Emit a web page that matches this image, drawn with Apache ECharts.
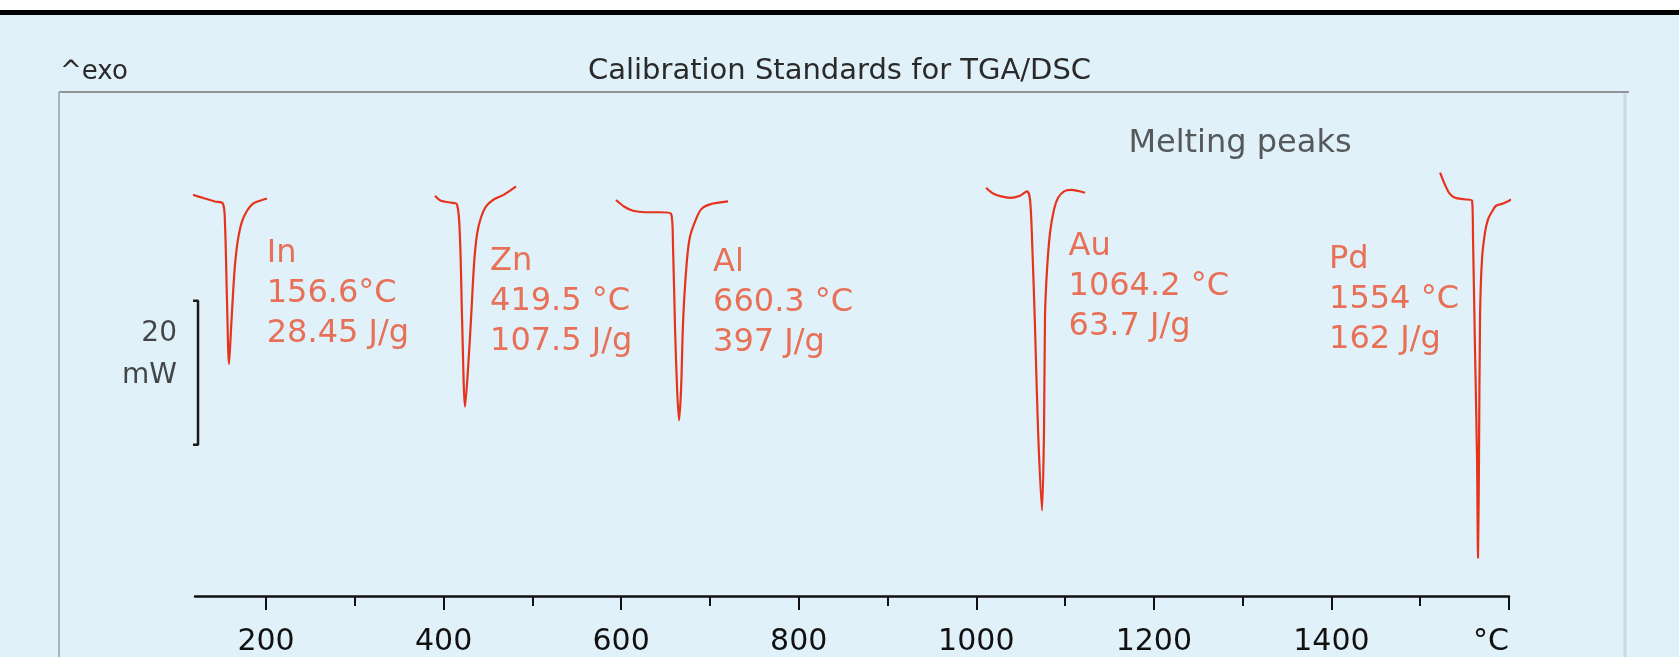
<!DOCTYPE html>
<html><head><meta charset="utf-8">
<script src="https://cdn.jsdelivr.net/npm/echarts@6/dist/echarts.min.js"></script>
<style>html,body{margin:0;padding:0;background:#e1f1f9}#c{width:1679px;height:657px}</style>
</head><body><div id="c"></div><script>
// DSC curves: [temperature °C, heat flow mW]
const indium = [[116.6,-14.25],[131.3,-14.8],[142.5,-15.2],[151.5,-15.5],[153.8,-18.4],[156.0,-28.8],[158.3,-37.8],[160.6,-32.9],[162.8,-28.1],[165.1,-23.9],[168.4,-20.5],[172.9,-18.0],[178.6,-16.5],[185.3,-15.5],[193.2,-15.1],[201.1,-14.8]];
const zinc = [[390.3,-14.4],[397.1,-15.1],[407.2,-15.35],[415.1,-15.6],[418.5,-20.5],[420.8,-31.5],[424.2,-43.7],[427.5,-38.5],[430.9,-31.5],[434.3,-23.9],[437.6,-19.8],[442.2,-17.4],[447.8,-15.9],[456.8,-14.9],[468.0,-14.25],[481.6,-13.1]];
const aluminium = [[594.2,-15.0],[603.2,-15.9],[613.4,-16.5],[626.9,-16.7],[643.8,-16.7],[656.2,-16.9],[658.5,-21.9],[660.7,-32.9],[663.0,-41.2],[665.2,-45.6],[667.5,-41.2],[669.3,-33.5],[670.8,-29.2],[674.2,-23.2],[677.5,-20.1],[683.2,-18.0],[690.0,-16.3],[700.1,-15.6],[720.4,-15.2]];
const gold = [[1011.0,-13.3],[1018.9,-14.1],[1027.9,-14.5],[1038.0,-14.7],[1049.3,-14.4],[1057.1,-13.8],[1060.5,-14.9],[1062.8,-20.5],[1066.2,-32.9],[1069.5,-46.8],[1074.0,-58.1],[1076.3,-46.8],[1077.4,-31.1],[1079.7,-24.6],[1083.1,-19.5],[1087.6,-16.3],[1092.1,-14.7],[1098.8,-13.8],[1106.7,-13.6],[1122.5,-14.0]];
const palladium = [[1522.4,-11.2],[1526.9,-12.6],[1532.5,-14.0],[1539.3,-14.7],[1549.4,-14.9],[1558.4,-15.1],[1559.5,-20.5],[1561.7,-35.7],[1564.0,-50.9],[1565.1,-64.7],[1566.2,-50.9],[1567.4,-31.1],[1569.6,-23.2],[1573.0,-19.5],[1576.4,-17.7],[1580.9,-16.6],[1585.4,-15.8],[1593.3,-15.5],[1603.4,-14.9]];

const majorTicks = [200, 400, 600, 800, 1000, 1200, 1400, 1600];
const minorTicks = [300, 500, 700, 900, 1100, 1300, 1500];
const tickLabels = ['200', '400', '600', '800', '1000', '1200', '1400', '°C'];

const peakNames = ['In', 'Zn', 'Al', 'Au', 'Pd'];
const peakTemps = ['156.6°C', '419.5 °C', '660.3 °C', '1064.2 °C', '1554 °C'];
const peakEnthalpies = ['28.45 J/g', '107.5 J/g', '397 J/g', '63.7 J/g', '162 J/g'];
const peakLabelAnchors = [[200.8, -28.0], [452.3, -29.1], [703.5, -29.3], [1103.9, -27.1], [1397.3, -28.9]];
const headingAnchor = [1297, -7.2];

const scaleBarMW = 20;        // bracket size in mW
const scaleBarTop = -29;      // heat flow at the top of the bracket
const scaleBarT = 123.4;      // temperature of the bracket's vertical bar
const scaleBarCapT = 108.7;
const scaleBarLabelAnchor = [99.7, -36.5];

const FONT = 'DejaVu Sans';
const curveColor = '#e6341c';
const textRed = '#e8502e';

const curveSeries = [indium, zinc, aluminium, gold, palladium].map(d => ({
  type: 'line', data: d, showSymbol: false, symbol: 'none', smooth: 0.3,
  clip: false, silent: true,
  lineStyle: { color: curveColor, width: 2.2 }
}));

const chart = echarts.init(document.getElementById('c'));
chart.setOption({
  animation: false,
  backgroundColor: '#e1f1f9',
  title: [
    { text: 'Calibration Standards for TGA/DSC', left: 'center', top: 57, padding: 0,
      textStyle: { fontFamily: FONT, fontSize: 29, fontWeight: 'normal', color: '#2a2a2a' } },
    { text: '^exo', left: 60, top: 59, padding: 0,
      textStyle: { fontFamily: FONT, fontSize: 26, fontWeight: 'normal', color: '#2a2a2a' } }
  ],
  graphic: [
    { type: 'rect', shape: { x: 0, y: 0, width: 1679, height: 10 }, style: { fill: '#ffffff' } },
    { type: 'rect', shape: { x: 0, y: 10, width: 1679, height: 5 }, style: { fill: '#000000' } },
    { type: 'line', shape: { x1: 59, y1: 92, x2: 1629, y2: 92 }, style: { stroke: '#8e9497', lineWidth: 2 } },
    { type: 'line', shape: { x1: 59, y1: 92, x2: 59, y2: 657 }, style: { stroke: '#aab2b6', lineWidth: 2 } },
    { type: 'line', shape: { x1: 1625, y1: 93, x2: 1625, y2: 657 }, style: { stroke: '#cbd9e1', lineWidth: 3 } }
  ],
  grid: { left: 195, right: 170, top: 92, height: 506 },
  xAxis: [
    { type: 'value', min: 120, max: 1600, position: 'bottom',
      axisLine: { show: true, onZero: false, lineStyle: { color: '#111', width: 2.5 } },
      axisTick: { show: true, customValues: majorTicks, length: 14, lineStyle: { color: '#111', width: 2 } },
      axisLabel: { show: true, customValues: majorTicks, margin: 31, fontSize: 30, fontFamily: FONT, color: '#111',
        alignMaxLabel: 'right',
        formatter: v => tickLabels[majorTicks.indexOf(v)] },
      splitLine: { show: false } },
    { type: 'value', min: 120, max: 1600, position: 'bottom',
      axisLine: { show: false, onZero: false },
      axisTick: { show: true, customValues: minorTicks, length: 10, lineStyle: { color: '#111', width: 2 } },
      axisLabel: { show: false },
      splitLine: { show: false } }
  ],
  yAxis: { type: 'value', min: -70, max: 0, show: false, splitLine: { show: false } },
  series: curveSeries.concat([
    { type: 'line', silent: true, clip: false, showSymbol: false, symbol: 'none',
      data: [[scaleBarCapT, scaleBarTop], [scaleBarT, scaleBarTop], [scaleBarT, scaleBarTop - scaleBarMW], [scaleBarCapT, scaleBarTop - scaleBarMW]],
      lineStyle: { color: '#1a1a1a', width: 2.5 } },
    { type: 'scatter', silent: true, clip: false, symbolSize: 0,
      data: [{ value: scaleBarLabelAnchor }],
      label: { show: true, position: 'left', distance: 0, formatter: scaleBarMW + '\nmW',
        fontFamily: FONT, fontSize: 28, lineHeight: 42, color: '#1a1a1a' } },
    { type: 'scatter', silent: true, clip: false, symbolSize: 0,
      data: [{ value: headingAnchor }],
      label: { show: true, position: 'inside', formatter: 'Melting peaks',
        fontFamily: FONT, fontSize: 32, color: '#333' } },
    { type: 'scatter', silent: true, clip: false, symbolSize: 0,
      data: peakLabelAnchors.map((p, i) => ({ value: p,
        label: { formatter: peakNames[i] + '\n' + peakTemps[i] + '\n' + peakEnthalpies[i] } })),
      label: { show: true, position: 'right', distance: 0, align: 'left',
        fontFamily: FONT, fontSize: 32, lineHeight: 40, color: textRed } }
  ])
});
</script></body></html>
